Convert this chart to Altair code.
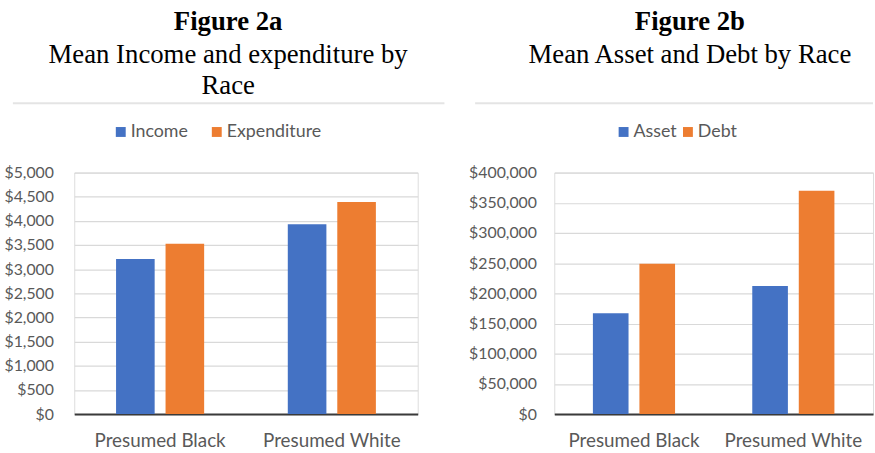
import altair as alt
import pandas as pd

races = ["Presumed Black", "Presumed White"]
income = [3210, 3930]
expenditure = [3525, 4390]
asset = [167000, 212000]
debt = [249000, 370000]

BLUE = "#4472C4"
ORANGE = "#ED7D31"
TXT = "#595959"

df_a = pd.DataFrame({
    "race": races * 2,
    "series": ["Income"] * 2 + ["Expenditure"] * 2,
    "value": income + expenditure,
})
df_b = pd.DataFrame({
    "race": races * 2,
    "series": ["Asset"] * 2 + ["Debt"] * 2,
    "value": asset + debt,
})


def panel(df, order, ymax, ystep, width, title, subtitle, dx, legx, colpad,
          off_pi, off_po, rule_x, rule_x2, label_pad):
    bars = alt.Chart(df).mark_bar().encode(
        x=alt.X("race:N", sort=races, title=None,
                scale=alt.Scale(paddingInner=0, paddingOuter=0),
                axis=alt.Axis(labelAngle=0, labelFont="Lato", labelFontSize=19,
                              labelColor=TXT, ticks=False, domainColor="#3a3a3a",
                              domainWidth=2, labelPadding=18)),
        xOffset=alt.XOffset("series:N", sort=order,
                            scale=alt.Scale(paddingInner=off_pi, paddingOuter=off_po)),
        y=alt.Y("value:Q", title=None,
                scale=alt.Scale(domain=[0, ymax], nice=False),
                axis=alt.Axis(values=list(range(0, ymax + 1, ystep)), format="$,.0f",
                              labelFont="Lato", labelFontSize=16, labelColor=TXT,
                              ticks=False, domain=False, gridColor="#d9d9d9",
                              gridWidth=1.2, labelPadding=label_pad)),
        color=alt.Color("series:N", sort=order,
                        scale=alt.Scale(domain=order, range=[BLUE, ORANGE]),
                        legend=alt.Legend(title=None, orient="none", direction="horizontal",
                                          legendX=legx, legendY=-50, padding=0,
                                          symbolType="square", symbolSize=100,
                                          symbolStrokeWidth=0, labelFont="Lato",
                                          labelFontSize=18, labelColor=TXT,
                                          labelOffset=1, columnPadding=colpad)),
    )
    rule = alt.Chart(pd.DataFrame({"k": [0]})).mark_rule(
        color="#e4e4e4", strokeWidth=2
    ).encode(x=alt.value(rule_x), x2=alt.value(rule_x2), y=alt.value(-70))
    return alt.layer(bars, rule).properties(
        width=width, height=244,
        title=alt.TitleParams(
            text=title, subtitle=subtitle, anchor="middle", dx=dx,
            font="Liberation Serif", fontSize=27, fontWeight="bold", color="black",
            subtitleFont="Liberation Serif", subtitleFontSize=27,
            subtitleColor="black", subtitleLineHeight=32, subtitlePadding=6,
            offset=2,
        ),
    )


left = panel(df_a, ["Income", "Expenditure"], 5000, 500, 347, "Figure 2a",
             ["Mean Income and expenditure by", "Race"], -18, 38, 20,
             0.22, 0.845, -62, 374, 21)
right = panel(df_b, ["Asset", "Debt"], 400000, 50000, 322, "Figure 2b",
              ["Mean Asset and Debt by Race", " "], -24, 61, 2,
              0.234, 0.83, -80, 322, 18)

chart = alt.hconcat(left, right, spacing=21).resolve_scale(
    color="independent", y="independent", x="independent", xOffset="independent"
).properties(
    padding={"left": 3, "top": 5, "right": 0, "bottom": 0}
).configure_view(strokeWidth=0).configure(background="white")

chart.save("out.html", embed_options={"renderer": "svg", "actions": False})
